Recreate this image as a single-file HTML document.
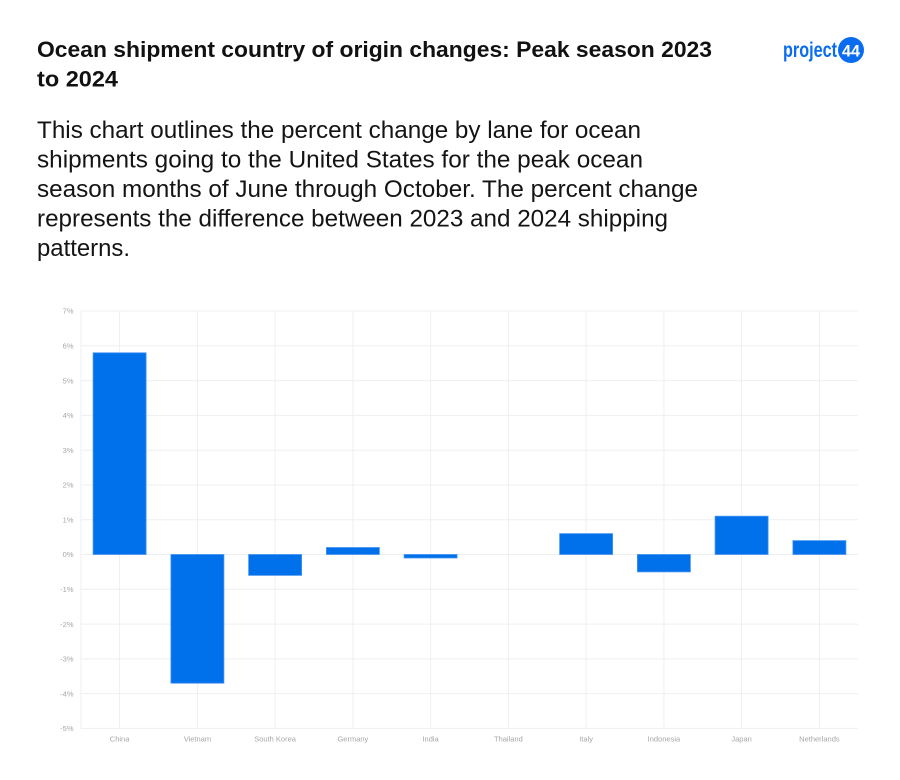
<!DOCTYPE html>
<html>
<head>
<meta charset="utf-8">
<style>
  html, body { margin: 0; padding: 0; background: #ffffff; }
  body { width: 900px; height: 780px; overflow: hidden; }
  svg { display: block; }
  .t { font-family: "Liberation Sans", Arial, sans-serif; }
</style>
</head>
<body>
<svg width="900" height="780" viewBox="0 0 900 780" xmlns="http://www.w3.org/2000/svg">
  <rect x="0" y="0" width="900" height="780" fill="#ffffff"/>

  <!-- Title -->
  <text class="t" x="37" y="57" font-size="22" font-weight="bold" fill="#111111" textLength="675" lengthAdjust="spacingAndGlyphs">Ocean shipment country of origin changes: Peak season 2023</text>
  <text class="t" x="37" y="86.5" font-size="22" font-weight="bold" fill="#111111" textLength="81" lengthAdjust="spacingAndGlyphs">to 2024</text>

  <!-- Logo -->
  <text class="t" x="783" y="57" font-size="21" font-weight="bold" fill="#0a6cf0" textLength="54" lengthAdjust="spacingAndGlyphs">project</text>
  <circle cx="851" cy="50" r="13" fill="#0a6cf0"/>
  <text class="t" x="851" y="56.5" font-size="17" font-weight="bold" fill="#ffffff" text-anchor="middle" textLength="18" lengthAdjust="spacingAndGlyphs">44</text>

  <!-- Description -->
  <g class="t" font-size="24" fill="#141414">
    <text x="37" y="138" textLength="604" lengthAdjust="spacingAndGlyphs">This chart outlines the percent change by lane for ocean</text>
    <text x="37" y="167.7" textLength="606" lengthAdjust="spacingAndGlyphs">shipments going to the United States for the peak ocean</text>
    <text x="37" y="197.2" textLength="661" lengthAdjust="spacingAndGlyphs">season months of June through October. The percent change</text>
    <text x="37" y="226.7" textLength="631" lengthAdjust="spacingAndGlyphs">represents the difference between 2023 and 2024 shipping</text>
    <text x="37" y="256.2" textLength="93" lengthAdjust="spacingAndGlyphs">patterns.</text>
  </g>

  <!-- Grid -->
  <g stroke="#efefef" stroke-width="1" fill="none">
    <line x1="81" y1="311.0" x2="858" y2="311.0"/>
    <line x1="81" y1="345.8" x2="858" y2="345.8"/>
    <line x1="81" y1="380.6" x2="858" y2="380.6"/>
    <line x1="81" y1="415.4" x2="858" y2="415.4"/>
    <line x1="81" y1="450.2" x2="858" y2="450.2"/>
    <line x1="81" y1="485.0" x2="858" y2="485.0"/>
    <line x1="81" y1="519.7" x2="858" y2="519.7"/>
    <line x1="81" y1="554.5" x2="858" y2="554.5"/>
    <line x1="81" y1="589.3" x2="858" y2="589.3"/>
    <line x1="81" y1="624.1" x2="858" y2="624.1"/>
    <line x1="81" y1="658.9" x2="858" y2="658.9"/>
    <line x1="81" y1="693.6" x2="858" y2="693.6"/>
    <line x1="81" y1="728.4" x2="858" y2="728.4"/>

    <line x1="81" y1="311" x2="81" y2="728.4"/>
    <line x1="119.6" y1="311" x2="119.6" y2="728.4"/>
    <line x1="197.4" y1="311" x2="197.4" y2="728.4"/>
    <line x1="275.1" y1="311" x2="275.1" y2="728.4"/>
    <line x1="352.9" y1="311" x2="352.9" y2="728.4"/>
    <line x1="430.6" y1="311" x2="430.6" y2="728.4"/>
    <line x1="508.4" y1="311" x2="508.4" y2="728.4"/>
    <line x1="586.1" y1="311" x2="586.1" y2="728.4"/>
    <line x1="663.9" y1="311" x2="663.9" y2="728.4"/>
    <line x1="741.6" y1="311" x2="741.6" y2="728.4"/>
    <line x1="819.4" y1="311" x2="819.4" y2="728.4"/>
  </g>

  <!-- Y tick labels -->
  <g class="t" font-size="7.5" fill="#a6a6a6" text-anchor="end">
    <text x="73.5" y="313.7">7%</text>
    <text x="73.5" y="348.5">6%</text>
    <text x="73.5" y="383.3">5%</text>
    <text x="73.5" y="418.1">4%</text>
    <text x="73.5" y="452.9">3%</text>
    <text x="73.5" y="487.7">2%</text>
    <text x="73.5" y="522.4">1%</text>
    <text x="73.5" y="557.2">0%</text>
    <text x="73.5" y="592.0">-1%</text>
    <text x="73.5" y="626.8">-2%</text>
    <text x="73.5" y="661.6">-3%</text>
    <text x="73.5" y="696.3">-4%</text>
    <text x="73.5" y="731.1">-5%</text>
  </g>

  <!-- Bars -->
  <g fill="#0070eb" stroke="#4594f2" stroke-width="0.8">
    <rect x="93.1" y="352.8" width="53" height="201.7"/>
    <rect x="170.9" y="554.5" width="53" height="128.7"/>
    <rect x="248.6" y="554.5" width="53" height="20.9"/>
    <rect x="326.4" y="547.5" width="53" height="7.0"/>
    <rect x="404.1" y="554.5" width="53" height="3.5"/>
    <rect x="559.6" y="533.6" width="53" height="20.9"/>
    <rect x="637.4" y="554.5" width="53" height="17.4"/>
    <rect x="715.1" y="516.2" width="53" height="38.3"/>
    <rect x="792.9" y="540.6" width="53" height="13.9"/>
  </g>

  <!-- X labels -->
  <g class="t" font-size="7.5" fill="#a6a6a6" text-anchor="middle">
    <text x="119.6" y="741.5">China</text>
    <text x="197.4" y="741.5">Vietnam</text>
    <text x="275.1" y="741.5">South Korea</text>
    <text x="352.9" y="741.5">Germany</text>
    <text x="430.6" y="741.5">India</text>
    <text x="508.4" y="741.5">Thailand</text>
    <text x="586.1" y="741.5">Italy</text>
    <text x="663.9" y="741.5">Indonesia</text>
    <text x="741.6" y="741.5">Japan</text>
    <text x="819.4" y="741.5">Netherlands</text>
  </g>
</svg>
</body>
</html>
